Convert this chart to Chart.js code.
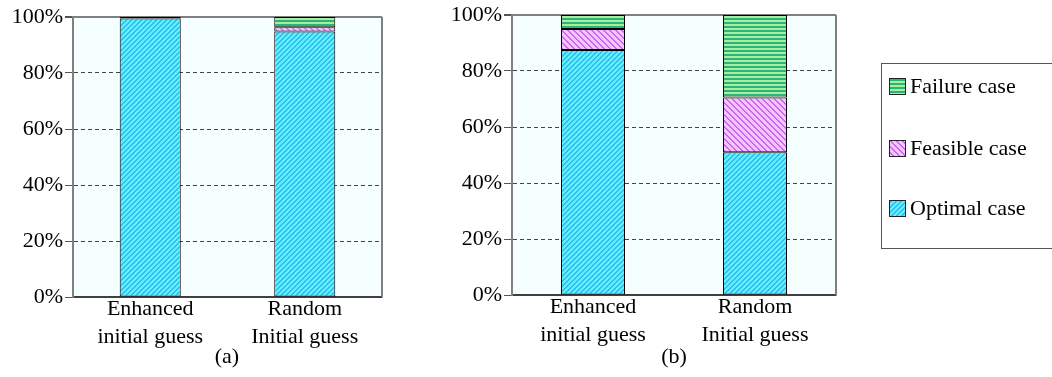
<!DOCTYPE html>
<html>
<head>
<meta charset="utf-8">
<script src="https://cdn.jsdelivr.net/npm/chart.js@4.4.1/dist/chart.umd.min.js"></script>
<style>
  body { margin: 0; background: #fff; width: 1052px; height: 377px; overflow: hidden; position: relative; font-family: "Liberation Serif", "Times New Roman", "DejaVu Serif", serif; }
  .box { position: absolute; top: 0; height: 377px; }
  #boxA { left: 0; width: 400px; }
  #boxB { left: 439px; width: 410px; top: -2px; }
  .panel { position: absolute; top: 343px; font-size: 22px; color: #000; width: 60px; text-align: center; line-height: 26px; }
  #legend { position: absolute; left: 881px; top: 63px; width: 175px; height: 186px; border: 1px solid #555; box-sizing: border-box; }
  .item { position: absolute; left: 7px; height: 24px; display: flex; align-items: center; font-size: 22px; color: #000; }
  .item canvas { border: 1px solid #222; margin-right: 4px; }
</style>
</head>
<body>
<div class="box" id="boxA"><canvas id="chartA" width="400" height="377"></canvas></div>
<div class="box" id="boxB"><canvas id="chartB" width="410" height="377"></canvas></div>
<div class="panel" style="left:197px">(a)</div>
<div class="panel" style="left:644px">(b)</div>
<div id="legend"></div>
<script>
const categories = [['Enhanced', 'initial guess'], ['Random', 'Initial guess']];
const seriesNames = ['Optimal case', 'Feasible case', 'Failure case'];
const yTicks = [0, 20, 40, 60, 80, 100];

// panel (a)
const optimalA = [99.5, 94.8];
const feasibleA = [0, 1.5];
const failureA = [0.5, 3.7];

// panel (b)
const optimalB = [87.5, 51];
const feasibleB = [7.5, 19.5];
const failureB = [5, 29.5];

function makePattern(size, paint) {
    const c = document.createElement('canvas');
    c.width = size; c.height = size;
    const g = c.getContext('2d');
    for (let y = 0; y < size; y++) {
        for (let x = 0; x < size; x++) {
            g.fillStyle = paint(x, y);
            g.fillRect(x, y, 1, 1);
        }
    }
    return g.createPattern(c, 'repeat');
}

const optimalFill = makePattern(5, (x, y) => ((x + y) % 5 < 2 ? '#33bbee' : '#5ff0ff'));
const feasibleFill = makePattern(6, (x, y) => (((x - y) % 6 + 6) % 6 < 2 ? '#cc66ee' : '#f4c4ff'));
const failureFill = makePattern(4, (x, y) => (y < 2 ? '#2fb277' : '#a4f0a0'));
const fills = [optimalFill, feasibleFill, failureFill];

const serif = '"Liberation Serif", "Times New Roman", "DejaVu Serif", serif';

const plotFrame = {
    id: 'plotFrame',
    beforeDraw(chart) {
        const a = chart.chartArea, ctx = chart.ctx;
        ctx.save();
        ctx.fillStyle = '#f5ffff';
        ctx.fillRect(a.left, a.top, a.right - a.left, a.bottom - a.top);
        ctx.restore();
    },
    beforeDatasetsDraw(chart) {
        const a = chart.chartArea, ctx = chart.ctx;
        ctx.save();
        ctx.strokeStyle = '#808080';
        ctx.lineWidth = 2;
        ctx.beginPath();
        ctx.moveTo(a.right, a.top);
        ctx.lineTo(a.right, a.bottom);
        ctx.stroke();
        ctx.restore();
    }
};

function makeChart(id, optimal, feasible, failure, padRight) {
    const data = [optimal, feasible, failure];
    new Chart(document.getElementById(id), {
        type: 'bar',
        data: {
            labels: categories,
            datasets: data.map((d, i) => ({
                label: seriesNames[i],
                data: d,
                backgroundColor: fills[i],
                borderColor: '#000',
                borderWidth: 1,
                borderSkipped: false,
                categoryPercentage: 1,
                barPercentage: 0.395
            }))
        },
        options: {
            responsive: false,
            animation: false,
            layout: { padding: { top: 17, right: padRight, bottom: 0, left: 0 } },
            plugins: {
                legend: { display: false },
                tooltip: { enabled: false }
            },
            scales: {
                x: {
                    stacked: true,
                    grid: { display: false },
                    border: { display: true, color: '#404040', width: 1.5 },
                    ticks: { color: '#000', padding: -10, font: { family: serif, size: 22, lineHeight: 1.27 } },
                    afterFit: s => { s.height = 80; }
                },
                y: {
                    stacked: true,
                    min: 0,
                    max: 100,
                    afterBuildTicks: s => { s.ticks = yTicks.map(v => ({ value: v })); },
                    grid: {
                        color: c => (c.tick && c.tick.value === 0 ? '#404040' : (c.tick && c.tick.value === 100 ? '#808080' : '#444')),
                        lineWidth: c => (c.tick && c.tick.value === 100 ? 2 : 1),
                        tickLength: 8,
                        tickColor: '#555'
                    },
                    border: {
                        color: '#808080',
                        width: 2,
                        dash: c => (c.tick && (c.tick.value === 0 || c.tick.value === 100) ? [] : [4, 3])
                    },
                    ticks: {
                        color: '#000',
                        padding: 2,
                        font: { family: serif, size: 22 },
                        callback: v => v + '%'
                    },
                    afterFit: s => { s.width = 73; }
                }
            }
        },
        plugins: [plotFrame]
    });
}

makeChart('chartA', optimalA, feasibleA, failureA, 18);
makeChart('chartB', optimalB, feasibleB, failureB, 13);

// legend, top to bottom: failure, feasible, optimal
const legend = document.getElementById('legend');
const legendTops = [10, 72, 132];
[2, 1, 0].forEach((si, row) => {
    const item = document.createElement('div');
    item.className = 'item';
    item.style.top = legendTops[row] + 'px';
    const sw = document.createElement('canvas');
    sw.width = 15; sw.height = 15;
    const g = sw.getContext('2d');
    g.fillStyle = fills[si];
    g.fillRect(0, 0, 15, 15);
    item.appendChild(sw);
    item.appendChild(document.createTextNode(seriesNames[si]));
    legend.appendChild(item);
});
</script>
</body>
</html>
